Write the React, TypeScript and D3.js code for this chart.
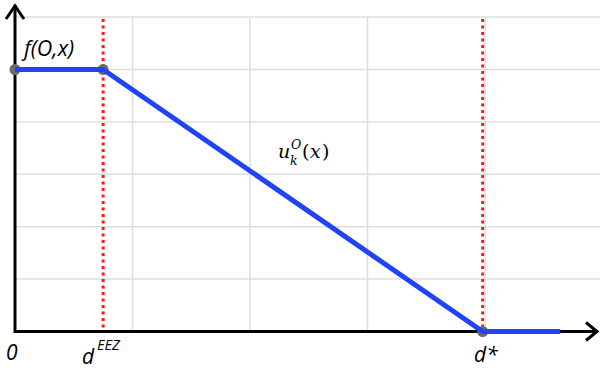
import React from "react";
import * as d3 from "d3";

const W = 600;
const H = 370;

// grid ticks (abstract units)
const xGridTicks = [1, 2, 3, 4];
const yGridTicks = [1, 2, 3, 4, 5, 6];

// key positions
const dEEZ = 0.75;
const dStar = 3.98;
const fLevel = 5;
const xEnd = 4.64;

// blue curve u_k^O(x)
const curveX = [0, dEEZ, dStar, xEnd];
const curveY = [fLevel, fLevel, 0, 0];
// highlighted points
const markX = [0, dEEZ, dStar];
const markY = [fLevel, fLevel, 0];

export default function App() {
  const x = d3.scaleLinear().domain([0, 1]).range([15, 132.5]);
  const y = d3.scaleLinear().domain([0, 1]).range([331.5, 279.1]);

  const line = d3
    .line<number>()
    .x((d, i) => x(curveX[i]))
    .y((d, i) => y(curveY[i]));

  const xAxisEnd = 597;
  const yAxisTop = 5;
  const gridTop = y(6);

  return (
    <svg
      width={W}
      height={H}
      style={{ position: "absolute", left: 0, top: 0, background: "#fff" }}
    >
      {/* grid */}
      {yGridTicks.map((t) => (
        <line
          key={"h" + t}
          x1={x(0)}
          x2={W}
          y1={y(t)}
          y2={y(t)}
          stroke="#dedede"
          strokeWidth={1.5}
        />
      ))}
      {xGridTicks.map((t) => (
        <line
          key={"v" + t}
          x1={x(t)}
          x2={x(t)}
          y1={gridTop}
          y2={y(0)}
          stroke="#dedede"
          strokeWidth={1.5}
        />
      ))}

      {/* red dotted lines */}
      {[dEEZ, dStar].map((v, i) => (
        <line
          key={"r" + i}
          x1={x(v)}
          x2={x(v)}
          y1={gridTop + 2}
          y2={y(0)}
          stroke="#ff1a1a"
          strokeWidth={3}
          strokeDasharray="3,3.5"
        />
      ))}

      {/* axes */}
      <line x1={x(0)} x2={xAxisEnd} y1={y(0)} y2={y(0)} stroke="#000" strokeWidth={3} />
      <line x1={x(0)} x2={x(0)} y1={y(0) + 1.5} y2={yAxisTop} stroke="#000" strokeWidth={3} />
      <polyline
        points={`${x(0) - 9},${yAxisTop + 14} ${x(0)},${yAxisTop + 1} ${x(0) + 9},${yAxisTop + 14}`}
        fill="none"
        stroke="#000"
        strokeWidth={3}
      />
      <polyline
        points={`${xAxisEnd - 11},${y(0) - 9} ${xAxisEnd},${y(0)} ${xAxisEnd - 11},${y(0) + 9}`}
        fill="none"
        stroke="#000"
        strokeWidth={3}
      />

      {/* markers */}
      {markX.map((v, i) => (
        <circle key={"m" + i} cx={x(v)} cy={y(markY[i])} r={5.5} fill="#6b6b6b" />
      ))}

      {/* blue curve */}
      <path
        d={line(curveX) || ""}
        fill="none"
        stroke="#2243f5"
        strokeWidth={5}
        strokeLinejoin="round"
      />

      {/* labels */}
      <g fontFamily="'Open Sans', 'Liberation Sans', sans-serif" fontStyle="italic" fill="#000">
        <text x={24} y={56} fontSize={21.5}>f(O,x)</text>
        <text x={6} y={360} fontSize={21}>0</text>
        <text x={82} y={364} fontSize={21}>d</text>
        <text x={97} y={350} fontSize={14.5}>EEZ</text>
        <text x={474} y={362} fontSize={21}>d*</text>
      </g>
      <g fontFamily="'DejaVu Serif', 'Liberation Serif', serif" fill="#000">
        <text x={278} y={158} fontSize={19} fontStyle="italic">u</text>
        <text x={290} y={165} fontSize={12.5} fontStyle="italic">k</text>
        <text x={291} y={149} fontSize={12.5} fontStyle="italic">O</text>
        <text x={302} y={158} fontSize={19}>(</text>
        <text x={310} y={158} fontSize={19} fontStyle="italic">x</text>
        <text x={322} y={158} fontSize={19}>)</text>
      </g>
    </svg>
  );
}
